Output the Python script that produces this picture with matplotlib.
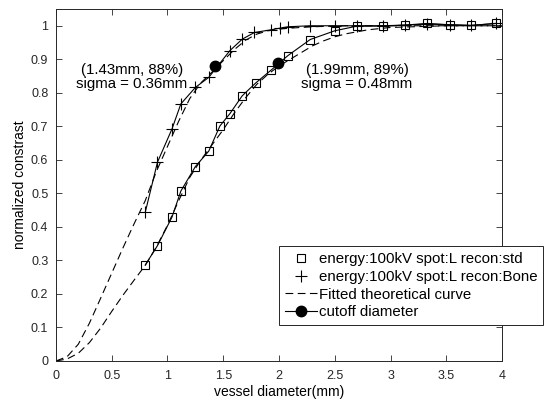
import numpy as np
import matplotlib.pyplot as plt

plt.rcParams['font.family'] = ['Liberation Sans', 'DejaVu Sans']

# measured contrast, recon: std
std_d = [0.80, 0.91, 1.04, 1.12, 1.25, 1.37, 1.47, 1.56, 1.67, 1.79, 1.93,
         2.08, 2.28, 2.50, 2.70, 2.93, 3.13, 3.33, 3.53, 3.72, 3.95]
std_c = [0.286, 0.344, 0.429, 0.507, 0.580, 0.626, 0.701, 0.738, 0.791, 0.829, 0.868,
         0.911, 0.959, 0.985, 0.999, 0.999, 1.002, 1.007, 1.003, 1.001, 1.007]

# measured contrast, recon: Bone
bone_d = [0.80, 0.91, 1.04, 1.12, 1.25, 1.37, 1.56, 1.67, 1.78, 1.93, 2.01,
          2.08, 2.28, 2.50, 2.70, 2.93, 3.13, 3.33, 3.53, 3.72, 3.95]
bone_c = [0.443, 0.593, 0.692, 0.767, 0.816, 0.846, 0.926, 0.960, 0.980, 0.988, 0.993,
          0.997, 1.000, 1.000, 1.000, 1.000, 1.002, 1.005, 1.003, 1.001, 1.007]

# fitted theoretical curves
fit_d = [0, 0.1, 0.2, 0.3, 0.4, 0.5, 0.6, 0.7, 0.8, 0.9, 1.0, 1.1, 1.2, 1.3, 1.4,
         1.5, 1.6, 1.7, 1.8, 1.9, 2.0, 2.1, 2.2, 2.3, 2.4, 2.5, 2.6, 2.8, 3.0, 3.5, 4.0]
fit_bone = [0, 0.013, 0.050, 0.113, 0.187, 0.262, 0.337, 0.409, 0.478, 0.565, 0.640,
            0.715, 0.783, 0.830, 0.862, 0.896, 0.929, 0.957, 0.975, 0.985, 0.990,
            0.993, 0.995, 0.997, 0.998, 0.999, 1.0, 1.0, 1.0, 1.0, 1.0]
fit_std = [0, 0.006, 0.023, 0.055, 0.098, 0.148, 0.196, 0.241, 0.285, 0.340, 0.405,
           0.478, 0.548, 0.600, 0.645, 0.690, 0.740, 0.785, 0.825, 0.855, 0.880,
           0.900, 0.920, 0.940, 0.955, 0.967, 0.976, 0.988, 0.995, 1.0, 1.0]

# cutoff points
cut_d = [1.43, 1.99]
cut_c = [0.88, 0.89]
cut_labels = ['(1.43mm, 88%)\nsigma = 0.36mm', '(1.99mm, 89%)\nsigma = 0.48mm']
cut_text_pos = [(0.68, 0.847), (2.70, 0.847)]

fig = plt.figure(figsize=(5.49, 4.11), dpi=100)
ax = fig.add_axes([0.102, 0.1217, 0.8124, 0.8564])

lw = 0.8
dash = (7, 4)

ax.plot(std_d, std_c, 's', color='black', mfc='none', ms=6, mew=0.8,
        label='energy:100kV spot:L recon:std')
ax.plot(bone_d, bone_c, '+', color='black', ms=8, mew=0.8,
        label='energy:100kV spot:L recon:Bone')
ax.plot(fit_d, fit_std, '--', color='black', lw=lw, dashes=dash,
        label='Fitted theoretical curve')
ax.plot(fit_d, fit_bone, '--', color='black', lw=lw, dashes=dash)
ax.plot(std_d, std_c, '-', color='black', lw=lw)
ax.plot(bone_d, bone_c, '-', color='black', lw=lw)
ax.plot(cut_d, cut_c, 'o', color='black', ms=7.5, ls='none')
# legend handle for cutoff diameter (line + filled circle)
ax.plot([], [], '-o', color='black', ms=7.5, lw=lw, label='cutoff diameter')

for (tx, ty), s in zip(cut_text_pos, cut_labels):
    ax.text(tx, ty, s, ha='center', va='center', fontsize=10.8, linespacing=1.05)

ax.set_xlim(0, 4)
ax.set_ylim(0, 1.05)
ax.set_xticks(np.arange(0, 4.01, 0.5))
ax.set_xticklabels(['0', '0.5', '1', '1.5', '2', '2.5', '3', '3.5', '4'])
ax.set_yticks(np.arange(0, 1.01, 0.1))
ax.set_yticklabels(['0', '0.1', '0.2', '0.3', '0.4', '0.5', '0.6', '0.7', '0.8', '0.9', '1'])
ax.tick_params(direction='in', length=4, width=0.6, top=True, right=True,
               labelsize=9, colors='#262626')
ax.tick_params(axis='x', pad=6.5)
ax.tick_params(axis='y', pad=5.5)
for sp in ax.spines.values():
    sp.set_color('#262626')
    sp.set_linewidth(0.7)

ax.set_xlabel('vessel diameter(mm)', fontsize=10, labelpad=2)
ax.set_ylabel('normalized constrast', fontsize=10, labelpad=3)

leg = ax.legend(loc='upper left', bbox_to_anchor=(279 / 549, 1 - 246 / 411),
                bbox_transform=fig.transFigure, fontsize=10.8, frameon=True,
                fancybox=False, framealpha=1, edgecolor='#262626',
                handlelength=2.1, handletextpad=0.15, borderpad=0.4,
                labelspacing=0.25, borderaxespad=0)
leg.get_frame().set_linewidth(0.7)

fig.savefig('out.png', dpi=100)
